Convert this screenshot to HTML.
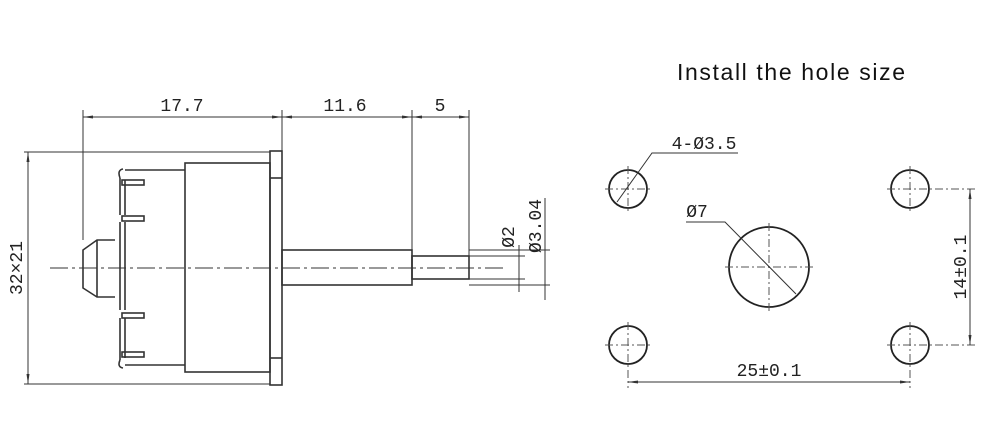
<!DOCTYPE html>
<html><head><style>body{margin:0;background:#fff}svg{display:block}</style></head><body>
<svg width="1000" height="444" viewBox="0 0 1000 444" xmlns="http://www.w3.org/2000/svg">
<defs>
<marker id="a" viewBox="0 0 10 6" refX="10" refY="3" markerWidth="10" markerHeight="6" orient="auto-start-reverse" markerUnits="userSpaceOnUse"><path d="M0 1.5L10 3L0 4.5z" fill="#333"/></marker>
</defs>
<rect width="1000" height="444" fill="#fff"/>
<text x="791" y="80" font-family="Liberation Sans, sans-serif" font-size="23" text-anchor="middle" fill="#111" textLength="228">Install the hole size</text>
<g stroke="#333" stroke-width="1.6" fill="none">
<rect x="270" y="151" width="12" height="234"/>
<line x1="270" y1="178" x2="282" y2="178"/><line x1="270" y1="358" x2="282" y2="358"/>
<rect x="185" y="163" width="85" height="209"/>
<line x1="125" y1="170" x2="185" y2="170"/><line x1="125" y1="365" x2="185" y2="365"/>
<path d="M120 178 L120 215 M125 180 L125 215 M120 222 L120 310 M125 222 L125 310 M120 318 L120 360 M125 318 L125 358"/>
<path d="M120 178 Q117 170 123 169 M120 360 Q117 367 123 368"/>
<rect x="122" y="180" width="22" height="5"/><rect x="122" y="216" width="22" height="5"/>
<rect x="122" y="313" width="22" height="5"/><rect x="122" y="352" width="22" height="5"/>
<path d="M115 240 L97 240 L83 250 L83 288 L97 297 L115 297"/>
<line x1="97" y1="240" x2="97" y2="297"/>
<rect x="282" y="250" width="130" height="35"/>
<rect x="412" y="256" width="57" height="23"/>
</g>
<g stroke="#333" stroke-width="1" fill="none">
<line x1="83" y1="110" x2="83" y2="240"/><line x1="282" y1="110" x2="282" y2="151"/>
<line x1="412" y1="110" x2="412" y2="256"/><line x1="469" y1="110" x2="469" y2="256"/>
<line x1="83" y1="117" x2="282" y2="117" marker-start="url(#a)" marker-end="url(#a)"/>
<line x1="282" y1="117" x2="412" y2="117" marker-start="url(#a)" marker-end="url(#a)"/>
<line x1="412" y1="117" x2="469" y2="117" marker-start="url(#a)" marker-end="url(#a)"/>
<line x1="24" y1="152" x2="270" y2="152"/><line x1="24" y1="384" x2="270" y2="384"/>
<line x1="28" y1="152" x2="28" y2="384" marker-start="url(#a)" marker-end="url(#a)"/>
<line x1="469" y1="250" x2="550" y2="250"/><line x1="469" y1="285" x2="550" y2="285"/>
<line x1="469" y1="256" x2="525" y2="256"/><line x1="469" y1="279" x2="525" y2="279"/>
<line x1="519" y1="245" x2="519" y2="292"/><line x1="545" y1="198" x2="545" y2="300"/>
<line x1="50" y1="268" x2="505" y2="268" stroke-dasharray="18 4 3 4"/>
</g>
<g font-family="Liberation Mono, monospace" font-size="18" fill="#222">
<text x="182" y="111" text-anchor="middle">17.7</text>
<text x="345" y="111" text-anchor="middle">11.6</text>
<text x="440" y="111" text-anchor="middle">5</text>
<text transform="translate(22,268) rotate(-90)" text-anchor="middle">32×21</text>
<text transform="translate(514,237) rotate(-90)" text-anchor="middle">Ø2</text>
<text transform="translate(541,226) rotate(-90)" text-anchor="middle">Ø3.04</text>
<text x="704" y="149" text-anchor="middle">4-Ø3.5</text>
<text x="697" y="217" text-anchor="middle">Ø7</text>
<text x="769" y="376" text-anchor="middle">25±0.1</text>
<text transform="translate(966,267) rotate(-90)" text-anchor="middle">14±0.1</text>
</g>
<g stroke="#222" stroke-width="1.8" fill="none">
<circle cx="628" cy="189" r="19"/><circle cx="910" cy="189" r="19"/>
<circle cx="628" cy="345" r="19"/><circle cx="910" cy="345" r="19"/>
<circle cx="769" cy="267" r="40"/>
</g>
<g stroke="#555" stroke-width="1" fill="none" stroke-dasharray="8 3 2 3">
<line x1="605" y1="189" x2="651" y2="189"/><line x1="628" y1="166" x2="628" y2="212"/>
<line x1="887" y1="189" x2="975" y2="189"/><line x1="910" y1="166" x2="910" y2="212"/>
<line x1="605" y1="345" x2="651" y2="345"/><line x1="628" y1="322" x2="628" y2="388"/>
<line x1="887" y1="345" x2="975" y2="345"/><line x1="910" y1="322" x2="910" y2="388"/>
<line x1="725" y1="267" x2="813" y2="267"/><line x1="769" y1="223" x2="769" y2="311"/>
</g>
<g stroke="#333" stroke-width="1" fill="none">
<line x1="970" y1="189" x2="970" y2="345" marker-start="url(#a)" marker-end="url(#a)"/>
<line x1="628" y1="382" x2="910" y2="382" marker-start="url(#a)" marker-end="url(#a)"/>
<path d="M738 153 L652 153 L617 202"/>
<path d="M686 222 L725 222 L796 294"/>
</g>
</svg>
</body></html>
